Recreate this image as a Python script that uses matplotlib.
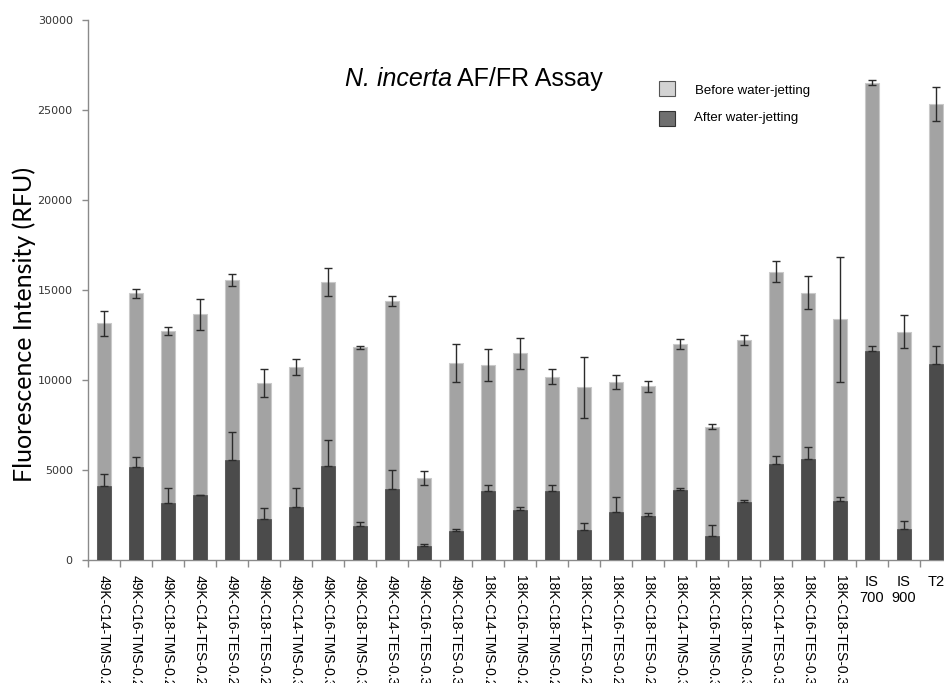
import matplotlib
matplotlib.use("Agg")
import matplotlib.pyplot as plt
import numpy as np
from matplotlib.patches import Rectangle

categories = [
    "49K-C14-TMS-0.2", "49K-C16-TMS-0.2", "49K-C18-TMS-0.2",
    "49K-C14-TES-0.2", "49K-C16-TES-0.2", "49K-C18-TES-0.2",
    "49K-C14-TMS-0.3", "49K-C16-TMS-0.3", "49K-C18-TMS-0.3",
    "49K-C14-TES-0.3", "49K-C16-TES-0.3", "49K-C18-TES-0.3",
    "18K-C14-TMS-0.2", "18K-C16-TMS-0.2", "18K-C18-TMS-0.2",
    "18K-C14-TES-0.2", "18K-C16-TES-0.2", "18K-C18-TES-0.2",
    "18K-C14-TMS-0.3", "18K-C16-TMS-0.3", "18K-C18-TMS-0.3",
    "18K-C14-TES-0.3", "18K-C16-TES-0.3", "18K-C18-TES-0.3",
    "IS\n700", "IS\n900", "T2",
]

before = [13150, 14815, 12740, 13650, 15550, 9815, 10700, 15440, 11830, 14390,
          4540, 10930, 10830, 11480, 10185, 9590, 9905, 9650, 12000, 7405,
          12220, 16020, 14850, 13370, 26520, 12685, 25350]
before_err = [700, 260, 220, 870, 350, 780, 440, 800, 80, 260,
              390, 1050, 870, 870, 410, 1690, 400, 310, 300, 150,
              300, 580, 900, 3460, 130, 900, 950]

after = [4130, 5150, 3150, 3590, 5560, 2280, 2945, 5220, 1870, 3945,
         780, 1630, 3815, 2760, 3850, 1685, 2665, 2445, 3870, 1335,
         3220, 5335, 5610, 3260, 11630, 1720, 10890]
after_err = [630, 550, 850, 30, 1570, 630, 1070, 1440, 260, 1050,
             110, 90, 350, 170, 310, 350, 850, 190, 110, 610,
             130, 460, 690, 260, 280, 460, 1020]

yticks = [0, 5000, 10000, 15000, 20000, 25000, 30000]

W, H = 945, 683
fig = plt.figure(figsize=(W / 100, H / 100), dpi=100)
ax = fig.add_axes([88 / W, (H - 560) / H, 864 / W, 540 / H])

x = np.arange(len(categories))
bw = 0.42
ax.bar(x, before, width=bw, color='#a3a3a3', edgecolor='#c9c9c9', linewidth=0.8, zorder=2)
ax.errorbar(x, before, yerr=before_err, fmt='none', ecolor='#2b2b2b',
            elinewidth=1.0, capsize=3, capthick=1.0, zorder=3)
ax.bar(x, after, width=bw, color='#4b4b4b', edgecolor='#4b4b4b', linewidth=0.5, zorder=4)
ax.errorbar(x, after, yerr=[np.zeros(len(after)), after_err], fmt='none', ecolor='#2b2b2b',
            elinewidth=1.0, capsize=3, capthick=1.0, zorder=5)

ax.set_xlim(-0.5, len(categories) - 0.5)
ax.set_ylim(0, 30000)
ax.set_yticks(yticks)
ax.set_yticklabels([str(v) for v in yticks], fontsize=8, color='#333333', family='DejaVu Sans')
ax.tick_params(axis='y', direction='out', length=4, color='#8a8a8a', width=1, pad=7)

ax.set_xticks(x)
ax.set_xticklabels(categories, fontsize=10, family='Liberation Sans', rotation=-90,
                   ha='center', va='top')
ax.set_xticks(np.arange(-0.5, len(categories), 1.0), minor=True)
ax.tick_params(axis='x', which='major', length=0, pad=11)
ax.tick_params(axis='x', which='minor', direction='out', length=5, color='#8a8a8a', width=1)
for lbl in ax.get_xticklabels()[-3:]:
    lbl.set_rotation(0)
    lbl.set_multialignment('center')
    lbl.set_fontsize(10.5)

for s in ['top', 'right']:
    ax.spines[s].set_visible(False)
for s in ['left', 'bottom']:
    ax.spines[s].set_color('#8a8a8a')
    ax.spines[s].set_linewidth(1)

ax.set_ylabel('Fluorescence Intensity (RFU)', fontsize=18, family='Lato', color='black')
ax.yaxis.set_label_coords((36 - 88) / 864, (560 - 324) / 540)

# title: italic species name + regular text
renderer = fig.canvas.get_renderer()
t1 = fig.text(345 / W, 1 - 79 / H, 'N. incerta', fontsize=18, family='Liberation Sans',
              style='italic', ha='left', va='center')
bb = t1.get_window_extent(renderer=renderer)
fig.text((bb.x1 + 5) / W, 1 - 79 / H, 'AF/FR Assay', fontsize=18, family='Liberation Sans',
         ha='left', va='center')

# legend
fig.patches.append(Rectangle((659 / W, 1 - 96 / H), 16 / W, 15 / H, transform=fig.transFigure,
                             facecolor='#d3d3d3', edgecolor='#555555', linewidth=0.8))
fig.patches.append(Rectangle((659 / W, 1 - 126 / H), 16 / W, 15 / H, transform=fig.transFigure,
                             facecolor='#6f6f6f', edgecolor='#333333', linewidth=0.8))
fig.text(695 / W, 1 - 91 / H, 'Before water-jetting', fontsize=9.5, family='Liberation Sans',
         ha='left', va='center')
fig.text(694 / W, 1 - 118 / H, 'After water-jetting', fontsize=9.5, family='Liberation Sans',
         ha='left', va='center')

fig.savefig('out.png', dpi=100)
